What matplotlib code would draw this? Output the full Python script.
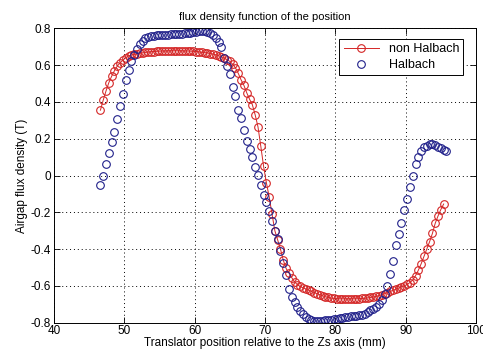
import matplotlib
matplotlib.use("Agg")
import matplotlib.pyplot as plt

# position along the translator (mm)
x_non = [46.6, 47.0, 47.4, 47.8, 48.2, 48.6, 49.0, 49.4, 49.8, 50.2,
         50.6, 51.0, 51.4, 51.8, 52.2, 52.6, 53.0, 53.4, 53.8, 54.2,
         54.6, 55.0, 55.4, 55.8, 56.2, 56.6, 57.0, 57.4, 57.8, 58.2,
         58.6, 59.0, 59.4, 59.8, 60.2, 60.6, 61.0, 61.4, 61.8, 62.2,
         62.6, 63.0, 63.4, 63.8, 64.2, 64.6, 65.0, 65.4, 65.8, 66.2,
         66.6, 67.0, 67.4, 67.8, 68.2, 68.6, 69.0, 69.4, 69.8, 70.2,
         70.6, 71.0, 71.4, 71.8, 72.2, 72.6, 73.0, 73.4, 73.8, 74.2,
         74.6, 75.0, 75.4, 75.8, 76.2, 76.6, 77.0, 77.4, 77.8, 78.2,
         78.6, 79.0, 79.4, 79.8, 80.2, 80.6, 81.0, 81.4, 81.8, 82.2,
         82.6, 83.0, 83.4, 83.8, 84.2, 84.6, 85.0, 85.4, 85.8, 86.2,
         86.6, 87.0, 87.4, 87.8, 88.2, 88.6, 89.0, 89.4, 89.8, 90.2,
         90.6, 91.0, 91.4, 91.8, 92.2, 92.6, 93.0, 93.4, 93.8, 94.2,
         94.6, 95.0, 95.4]
b_non = [0.355, 0.41, 0.46, 0.505, 0.54, 0.57, 0.595, 0.612, 0.627, 0.640,
         0.650, 0.655, 0.658, 0.661, 0.664, 0.667, 0.669, 0.671, 0.673, 0.674,
         0.675, 0.676, 0.677, 0.677, 0.678, 0.678, 0.678, 0.678, 0.678, 0.678,
         0.677, 0.677, 0.676, 0.675, 0.674, 0.672, 0.670, 0.668, 0.666, 0.663,
         0.660, 0.656, 0.651, 0.645, 0.638, 0.630, 0.620, 0.605, 0.585, 0.555,
         0.520, 0.490, 0.450, 0.415, 0.385, 0.330, 0.265, 0.160, 0.050, -0.040,
         -0.117, -0.210, -0.300, -0.350, -0.400, -0.460, -0.505, -0.530, -0.555, -0.578,
         -0.593, -0.603, -0.610, -0.617, -0.623, -0.630, -0.636, -0.642, -0.648, -0.654,
         -0.659, -0.663, -0.666, -0.668, -0.669, -0.670, -0.670, -0.670, -0.670, -0.670,
         -0.670, -0.670, -0.669, -0.668, -0.667, -0.665, -0.663, -0.660, -0.657, -0.653,
         -0.648, -0.642, -0.636, -0.630, -0.624, -0.618, -0.612, -0.606, -0.600, -0.592,
         -0.582, -0.568, -0.545, -0.515, -0.480, -0.440, -0.400, -0.360, -0.315, -0.260,
         -0.220, -0.185, -0.155]

x_hal = [46.6, 47.0, 47.4, 47.8, 48.2, 48.6, 49.0, 49.4, 49.8, 50.2,
         50.6, 51.0, 51.4, 51.8, 52.2, 52.6, 53.0, 53.4, 53.8, 54.2,
         54.6, 55.0, 55.4, 55.8, 56.2, 56.6, 57.0, 57.4, 57.8, 58.2,
         58.6, 59.0, 59.4, 59.8, 60.2, 60.6, 61.0, 61.4, 61.8, 62.2,
         62.6, 63.0, 63.4, 63.8, 64.2, 64.6, 65.0, 65.4, 65.8, 66.2,
         66.6, 67.0, 67.4, 67.8, 68.2, 68.6, 69.0, 69.4, 69.8, 70.2,
         70.6, 71.0, 71.4, 71.8, 72.2, 72.6, 73.0, 73.4, 73.8, 74.2,
         74.6, 75.0, 75.4, 75.8, 76.2, 76.6, 77.0, 77.4, 77.8, 78.2,
         78.6, 79.0, 79.4, 79.8, 80.2, 80.6, 81.0, 81.4, 81.8, 82.2,
         82.6, 83.0, 83.4, 83.8, 84.2, 84.6, 85.0, 85.4, 85.8, 86.2,
         86.6, 87.0, 87.4, 87.8, 88.2, 88.6, 89.0, 89.4, 89.8, 90.2,
         90.6, 91.0, 91.4, 91.8, 92.2, 92.6, 93.0, 93.4, 93.8, 94.2,
         94.6, 95.0, 95.4, 95.8]
b_hal = [-0.054, 0.000, 0.060, 0.125, 0.180, 0.235, 0.305, 0.380, 0.445, 0.520,
         0.575, 0.620, 0.657, 0.686, 0.715, 0.733, 0.745, 0.752, 0.758, 0.760,
         0.762, 0.763, 0.764, 0.765, 0.766, 0.767, 0.768, 0.769, 0.770, 0.771,
         0.772, 0.774, 0.776, 0.778, 0.781, 0.784, 0.785, 0.784, 0.780, 0.773,
         0.765, 0.748, 0.725, 0.700, 0.640, 0.595, 0.550, 0.480, 0.430, 0.356,
         0.310, 0.250, 0.190, 0.145, 0.100, 0.045, 0.005, -0.050, -0.108, -0.145,
         -0.195, -0.245, -0.300, -0.345, -0.410, -0.475, -0.540, -0.615, -0.660, -0.686,
         -0.715, -0.738, -0.752, -0.770, -0.782, -0.788, -0.790, -0.791, -0.790, -0.789,
         -0.787, -0.785, -0.783, -0.781, -0.779, -0.776, -0.773, -0.770, -0.768, -0.766,
         -0.764, -0.762, -0.759, -0.756, -0.750, -0.742, -0.733, -0.724, -0.712, -0.698,
         -0.677, -0.645, -0.600, -0.535, -0.462, -0.380, -0.320, -0.260, -0.190, -0.130,
         -0.065, -0.005, 0.060, 0.100, 0.135, 0.155, 0.163, 0.170, 0.172, 0.165,
         0.157, 0.148, 0.141, 0.133]

x_ticks = [40, 50, 60, 70, 80, 90, 100]
y_ticks = [-0.8, -0.6, -0.4, -0.2, 0, 0.2, 0.4, 0.6, 0.8]
y_labels = ["-0.8", "-0.6", "-0.4", "-0.2", "0", "0.2", "0.4", "0.6", "0.8"]

plt.rcParams["font.family"] = ["Liberation Sans", "DejaVu Sans"]
plt.rcParams["font.size"] = 8

fig = plt.figure(figsize=(4.83, 3.54), dpi=100)
ax = fig.add_axes([0.1118, 0.0884, 0.8737, 0.8316])

red = "#d42626"
blue = "#20208a"

ax.plot(x_non, b_non, color=red, linewidth=0.7, marker="o", markersize=5.5,
        markerfacecolor="none", markeredgewidth=0.8, label="non Halbach")
ax.plot(x_hal, b_hal, linestyle="none", marker="o", markersize=5.5,
        markerfacecolor="none", markeredgecolor=blue, markeredgewidth=0.8,
        label="Halbach")

ax.set_xlim(40, 100)
ax.set_ylim(-0.8, 0.8)
ax.set_xticks(x_ticks)
ax.set_yticks(y_ticks)
ax.set_yticklabels(y_labels)
ax.tick_params(direction="in", top=True, right=True, length=4, width=0.6,
               labelsize=8.5, pad=2)
ax.grid(True, color="black", linestyle=(0, (1, 3)), linewidth=0.7)
for s in ax.spines.values():
    s.set_linewidth(0.7)

ax.set_title("flux density function of the position", fontsize=8, pad=6)
ax.set_xlabel("Translator position relative to the Zs axis (mm)", fontsize=8.5, labelpad=0)
ax.set_ylabel("Airgap flux density (T)", fontsize=8.5, labelpad=2)

leg = ax.legend(loc="upper right", fancybox=False, edgecolor="black",
                framealpha=1, fontsize=9, borderpad=0.35, handlelength=2.8,
                labelspacing=0.3, bbox_to_anchor=(0.985, 0.985))
leg.get_frame().set_linewidth(0.7)

plt.savefig("out.png", dpi=100)
